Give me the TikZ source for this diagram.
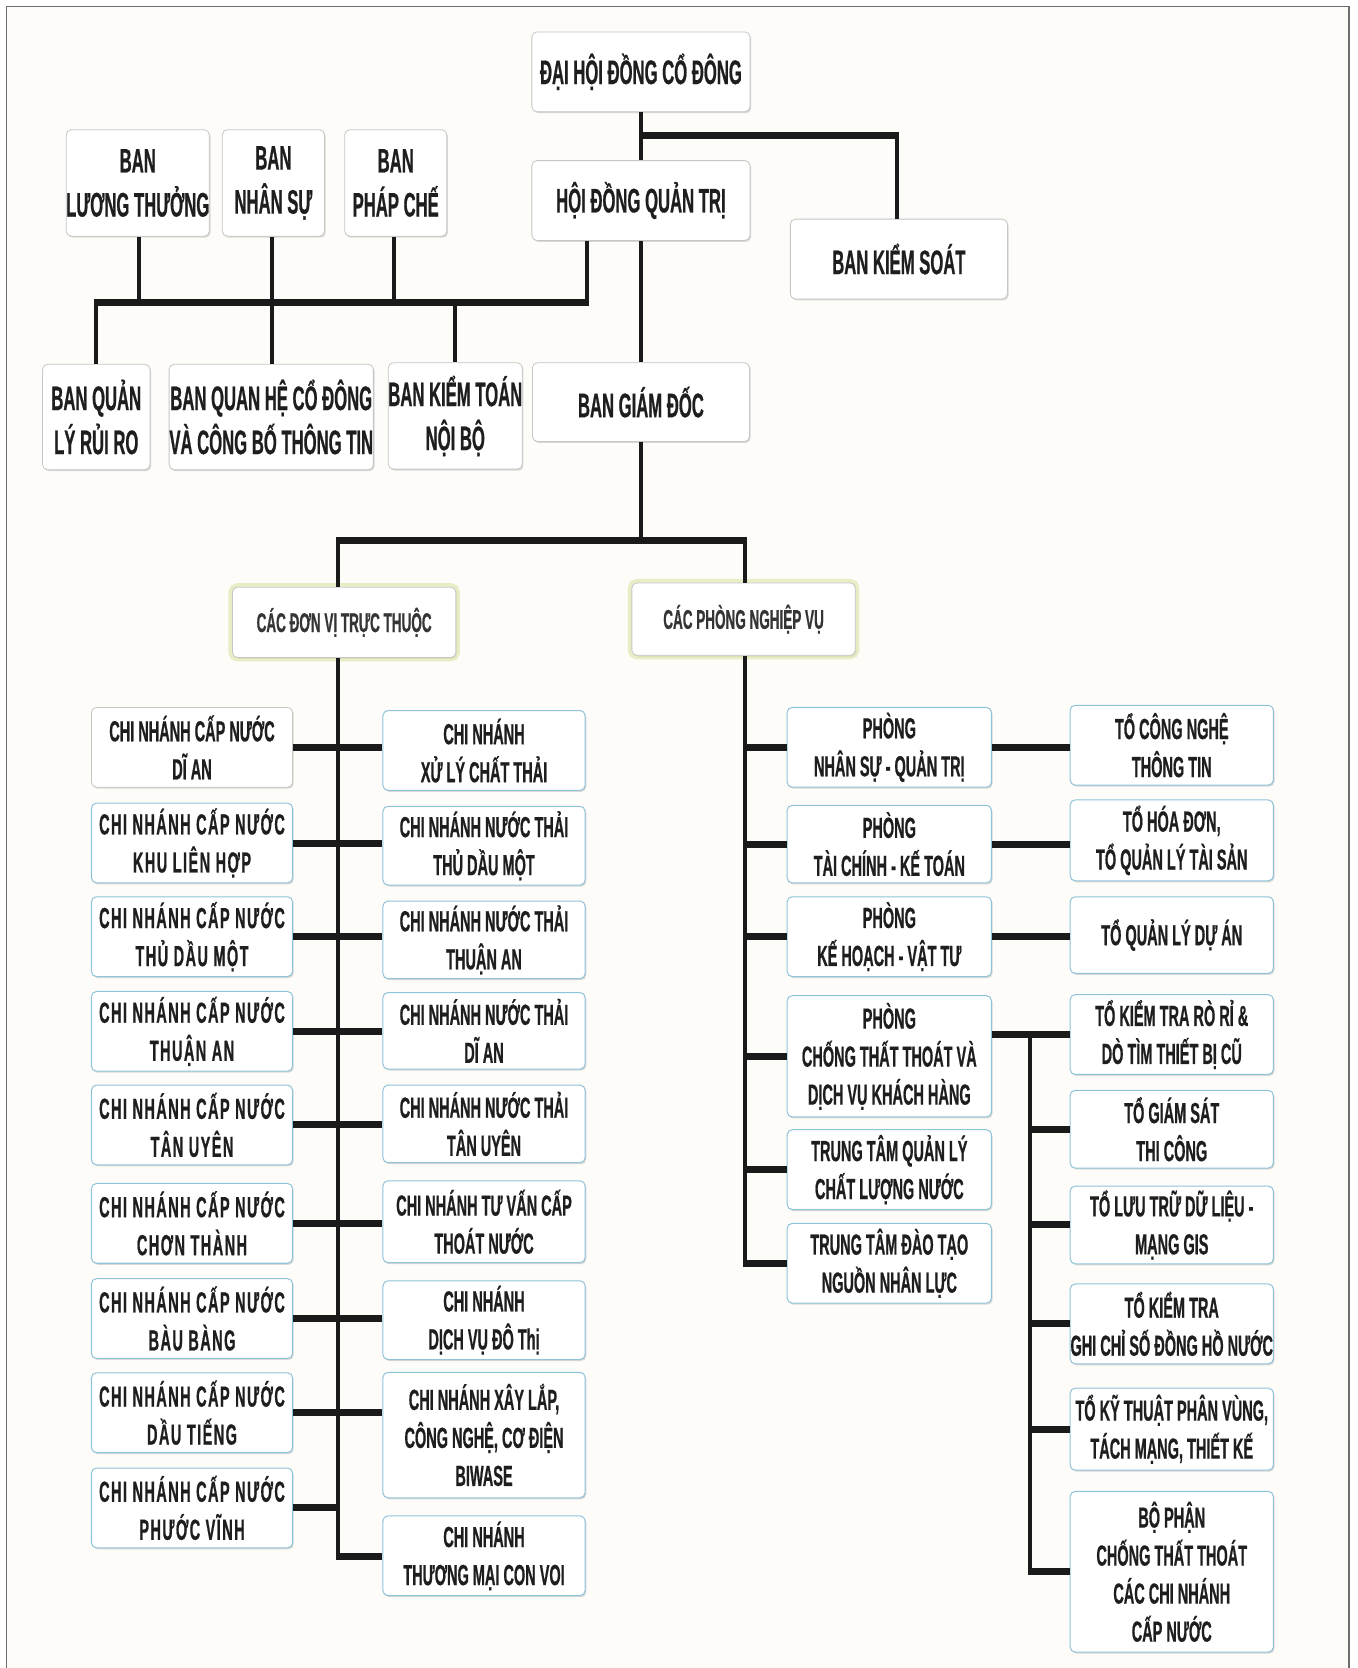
\documentclass[tikz,border=0pt]{standalone}
\usepackage{fontspec}
\setmainfont{Liberation Sans}
\newfontfamily\condA[FakeStretch=0.49,BoldFeatures={FakeBold=0.6}]{Liberation Sans}
\newfontfamily\condB[FakeStretch=0.5,BoldFeatures={FakeBold=0.6}]{Liberation Sans}
\newfontfamily\condsp[FakeStretch=0.5,LetterSpace=5,BoldFeatures={FakeBold=0.6}]{Liberation Sans}
\usetikzlibrary{shadows}
\definecolor{bgc}{HTML}{FDFCF8}
\definecolor{txt}{HTML}{1E1E1E}
\definecolor{txtc}{HTML}{353535}
\definecolor{lc}{HTML}{1A1A1A}
\definecolor{grayb}{HTML}{C6C6C6}
\definecolor{blueb}{HTML}{8FC3DA}
\definecolor{glow}{HTML}{DDE3A6}
\definecolor{framec}{HTML}{6E6E6E}
\tikzset{
  sz/.style 2 args={minimum width=#1*1.0635pt, minimum height=#2*1.0635pt},
  basebox/.style={rectangle, rounded corners=5pt, fill=white, inner sep=0pt, align=center, text=txt,
     drop shadow={shadow xshift=1.2pt, shadow yshift=-1.5pt, fill=black, opacity=0.14}},
  topbox/.style={basebox, draw=grayb, line width=0.8pt, font={\condA\bfseries\fontsize{34}{44}\selectfont}},
  graybox/.style={basebox, draw=grayb, line width=0.8pt, font={\condB\bfseries\fontsize{29}{38}\selectfont}},
  bluebox/.style={basebox, draw=blueb, line width=1pt, font={\condB\bfseries\fontsize{29}{38}\selectfont}},
  blueboxsp/.style={bluebox, font={\condsp\bfseries\fontsize{29}{38}\selectfont}},
  glowbox/.style={basebox, draw=grayb, line width=0.8pt, text=txtc, font={\condB\bfseries\fontsize{27}{36}\selectfont},
     preaction={draw=glow, line width=8pt, opacity=0.6}},
  hl/.style={draw=lc, line width=7pt},
  vl/.style={draw=lc, line width=4pt},
}
\begin{document}
\begin{tikzpicture}[x=1.0635pt, y=-1.0635pt]
\useasboundingbox (0,0) rectangle (1276,1568);
\fill[white] (0,0) rectangle (1276,1568);
\fill[bgc] (6,6) rectangle (1268,1568);
\draw[framec, line width=1.6pt] (6,1568) -- (6,6) -- (1268,6) -- (1268,1568);

% ---------- top part ----------
\node[topbox, sz={205}{75}] (dh) at (602.5,67.5) {ĐẠI HỘI ĐỒNG CỔ ĐÔNG};
\node[topbox, sz={205}{75}] (hd) at (602.5,188.5) {HỘI ĐỒNG QUẢN TRỊ};
\node[topbox, sz={204}{75}] (bks) at (845,243.5) {BAN KIỂM SOÁT};
\node[topbox, sz={125}{100}] (blt) at (129.5,172) {BAN\\LƯƠNG THƯỞNG};
\node[topbox, sz={96}{100}] (bns) at (257,172) {BAN\\NHÂN SỰ};
\node[topbox, sz={96}{100}] (bpc) at (372,172) {BAN\\PHÁP CHẾ};
\node[topbox, sz={101}{99}] (bql) at (90.5,392) {BAN QUẢN\\LÝ RỦI RO};
\node[topbox, sz={192}{99}] (bqh) at (255,392) {BAN QUAN HỆ CỔ ĐÔNG\\VÀ CÔNG BỐ THÔNG TIN};
\node[topbox, sz={124}{100}] (bkt) at (428,391) {BAN KIỂM TOÁN\\NỘI BỘ};
\node[topbox, sz={204}{74}] (bgd) at (602.5,378) {BAN GIÁM ĐỐC};

\node[glowbox, sz={210}{66}] (cdv) at (323.5,585) {CÁC ĐƠN VỊ TRỰC THUỘC};
\node[glowbox, sz={210}{68}] (cpn) at (699,582) {CÁC PHÒNG NGHIỆP VỤ};

% ---------- column A ----------
\node[graybox, sz={189}{75}] (a1) at (180.5,702.5) {CHI NHÁNH CẤP NƯỚC\\DĨ AN};
\node[blueboxsp, sz={189}{75}] (a2) at (180.5,792.5) {CHI NHÁNH CẤP NƯỚC\\KHU LIÊN HỢP};
\node[blueboxsp, sz={189}{75}] (a3) at (180.5,880.5) {CHI NHÁNH CẤP NƯỚC\\THỦ DẦU MỘT};
\node[blueboxsp, sz={189}{75}] (a4) at (180.5,969.5) {CHI NHÁNH CẤP NƯỚC\\THUẬN AN};
\node[blueboxsp, sz={189}{75}] (a5) at (180.5,1057.5) {CHI NHÁNH CẤP NƯỚC\\TÂN UYÊN};
\node[blueboxsp, sz={189}{75}] (a6) at (180.5,1150) {CHI NHÁNH CẤP NƯỚC\\CHƠN THÀNH};
\node[blueboxsp, sz={189}{75}] (a7) at (180.5,1239.5) {CHI NHÁNH CẤP NƯỚC\\BÀU BÀNG};
\node[blueboxsp, sz={189}{75}] (a8) at (180.5,1328) {CHI NHÁNH CẤP NƯỚC\\DẦU TIẾNG};
\node[blueboxsp, sz={189}{75}] (a9) at (180.5,1417.5) {CHI NHÁNH CẤP NƯỚC\\PHƯỚC VĨNH};

% ---------- column B ----------
\node[bluebox, sz={190}{75}] (b1) at (455,705.5) {CHI NHÁNH\\XỬ LÝ CHẤT THẢI};
\node[bluebox, sz={190}{74}] (b2) at (455,795) {CHI NHÁNH NƯỚC THẢI\\THỦ DẦU MỘT};
\node[bluebox, sz={190}{73}] (b3) at (455,883.5) {CHI NHÁNH NƯỚC THẢI\\THUẬN AN};
\node[bluebox, sz={190}{72}] (b4) at (455,969) {CHI NHÁNH NƯỚC THẢI\\DĨ AN};
\node[bluebox, sz={190}{73}] (b5) at (455,1056.5) {CHI NHÁNH NƯỚC THẢI\\TÂN UYÊN};
\node[bluebox, sz={190}{77}] (b6) at (455,1148.5) {CHI NHÁNH TƯ VẤN CẤP\\THOÁT NƯỚC};
\node[bluebox, sz={190}{74}] (b7) at (455,1241) {CHI NHÁNH\\DỊCH VỤ ĐÔ Thị};
\node[bluebox, sz={190}{118}] (b8) at (455,1349) {CHI NHÁNH XÂY LẮP,\\CÔNG NGHỆ, CƠ ĐIỆN\\BIWASE};
\node[bluebox, sz={190}{75}] (b9) at (455,1462.5) {CHI NHÁNH\\THƯƠNG MẠI CON VOI};

% ---------- column C ----------
\node[bluebox, sz={192}{75}] (c1) at (836,702.5) {PHÒNG\\NHÂN SỰ - QUẢN TRỊ};
\node[bluebox, sz={192}{73}] (c2) at (836,793.5) {PHÒNG\\TÀI CHÍNH - KẾ TOÁN};
\node[bluebox, sz={192}{75}] (c3) at (836,880.5) {PHÒNG\\KẾ HOẠCH - VẬT TƯ};
\node[bluebox, sz={192}{114}] (c4) at (836,993) {PHÒNG\\CHỐNG THẤT THOÁT VÀ\\DỊCH VỤ KHÁCH HÀNG};
\node[bluebox, sz={192}{75}] (c5) at (836,1099.5) {TRUNG TÂM QUẢN LÝ\\CHẤT LƯỢNG NƯỚC};
\node[bluebox, sz={192}{75}] (c6) at (836,1187.5) {TRUNG TÂM ĐÀO TẠO\\NGUỒN NHÂN LỰC};

% ---------- column D ----------
\node[bluebox, sz={191}{75}] (d1) at (1101.5,700.5) {TỔ CÔNG NGHỆ\\THÔNG TIN};
\node[bluebox, sz={191}{76}] (d2) at (1101.5,790) {TỔ HÓA ĐƠN,\\TỔ QUẢN LÝ TÀI SẢN};
\node[bluebox, sz={191}{72}] (d3) at (1101.5,879) {TỔ QUẢN LÝ DỰ ÁN};
\node[bluebox, sz={191}{75}] (d4) at (1101.5,972.5) {TỔ KIỂM TRA RÒ RỈ \&\\DÒ TÌM THIẾT BỊ CŨ};
\node[bluebox, sz={191}{73}] (d5) at (1101.5,1061.5) {TỔ GIÁM SÁT\\THI CÔNG};
\node[bluebox, sz={191}{73}] (d6) at (1101.5,1151.5) {TỔ LƯU TRỮ DỮ LIỆU -\\MẠNG GIS};
\node[bluebox, sz={191}{75}] (d7) at (1101.5,1244.5) {TỔ KIỂM TRA\\GHI CHỈ SỐ ĐỒNG HỒ NƯỚC};
\node[bluebox, sz={191}{77}] (d8) at (1101.5,1343.5) {TỔ KỸ THUẬT PHÂN VÙNG,\\TÁCH MẠNG, THIẾT KẾ};
\node[bluebox, sz={191}{151}] (d9) at (1101.5,1477.5) {BỘ PHẬN\\CHỐNG THẤT THOÁT\\CÁC CHI NHÁNH\\CẤP NƯỚC};

% ---------- junction coordinates ----------
\coordinate (j1) at (602.5,127);
\coordinate (j1r) at (843,127);
\coordinate (bL) at (90,284);
\coordinate (bR) at (552,284);
\coordinate (mm) at (602.5,508);
\coordinate (mL) at (318,508);
\coordinate (mR) at (700,508);
\coordinate (tL) at (318,1463);
\coordinate (tR) at (700,1188);
\coordinate (sT) at (968,972.5);
\coordinate (sB) at (968,1480);

% ---------- connectors: top ----------
\draw[vl] (dh.south) -- (hd.north);
\draw[hl] ([xshift=-2pt]j1) -- ([xshift=2pt]j1r);
\draw[vl] (j1r) -- (j1r |- bks.north);
\draw[vl] (hd.south -| bR) -- (bR);
\draw[hl] ([xshift=-2pt]bL) -- ([xshift=2pt]bR);
\draw[vl] (blt.south -| 131,0) -- (bL -| 131,0);
\draw[vl] (bns.south -| 256,0) -- (bqh.north -| 256,0);
\draw[vl] (bpc.south -| 370,0) -- (bL -| 370,0);
\draw[vl] (bL) -- (bL |- bql.north);
\draw[vl] (bL -| bkt.north) -- (bkt.north);
\draw[vl] (hd.south) -- (bgd.north);
\draw[vl] (bgd.south) -- (mm);
\draw[hl] ([xshift=-2pt]mL) -- ([xshift=2pt]mR);
\draw[vl] (mL) -- (mL |- cdv.north);
\draw[vl] (mR) -- (mR |- cpn.north);

% ---------- connectors: left ----------
\draw[vl] (mL |- cdv.south) -- (tL);
\foreach \i in {1,...,8}{
  \draw[hl] (a\i.east) -- (a\i.east -| b\i.west);
}
\draw[hl] (a9.east) -- ([xshift=2pt]a9.east -| tL);
\draw[hl] ([xshift=-2pt]tL) -- (tL -| b9.west);

% ---------- connectors: right ----------
\draw[vl] (mR |- cpn.south) -- (tR);
\foreach \i in {1,...,6}{
  \draw[hl] ([xshift=-2pt]c\i.west -| tR) -- (c\i.west);
}
\foreach \i in {1,2,3}{
  \draw[hl] (c\i.east) -- (c\i.east -| d\i.west);
}
\draw[hl] (d4.west -| c4.east) -- (d4.west);
\draw[vl] (sT) -- (sB);
\foreach \i in {5,...,9}{
  \draw[hl] ([xshift=-2pt]d\i.west -| sT) -- (d\i.west);
}
\end{tikzpicture}
\end{document}
